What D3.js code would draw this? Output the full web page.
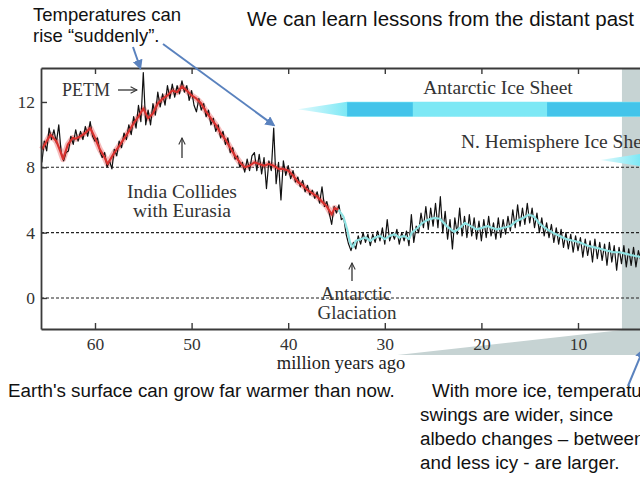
<!DOCTYPE html>
<html>
<head>
<meta charset="utf-8">
<script src="https://cdn.jsdelivr.net/npm/d3@7"></script>
<style>
body { margin: 0; background: #fff; }
svg { display: block; }
</style>
</head>
<body>
<script>
var ageTicks = [60, 50, 40, 30, 20, 10];
var tempTicks = [0, 4, 8, 12];
var gridTemps = [0, 4, 8];

// running mean, [million years ago, deg C] - red before the glaciation, cyan after
var redSmooth = [[65.5, 9.1],[65.0, 9.6],[64.6, 10.0],[64.0, 9.6],[63.6, 9.0],[63.3, 8.5],[62.8, 9.4],[62.3, 9.8],
  [62.0, 9.75],[61.5, 9.9],[61.0, 10.1],[60.5, 10.4],[60.0, 9.8],[59.5, 9.1],[59.0, 8.6],[58.7, 8.2],[58.0, 8.9],
  [57.5, 9.3],[57.0, 9.75],[56.5, 10.2],[56.0, 10.7],[55.5, 11.1],[55.0, 11.6],[54.5, 11.0],[54.0, 11.3],[53.5, 11.9],
  [53.0, 12.2],[52.5, 12.4],[52.0, 12.7],[51.5, 12.6],[51.0, 12.95],[50.5, 12.7],[50.0, 12.4],[49.5, 12.2],[49.0, 11.9],
  [48.5, 11.4],[48.0, 11.0],[47.5, 10.6],[47.0, 10.1],[46.5, 9.7],[46.0, 9.2],[45.5, 8.7],[45.0, 8.3],[44.5, 8.0],
  [44.0, 8.1],[43.5, 8.3],[43.0, 8.2],[42.5, 8.1],[42.0, 8.2],[41.5, 8.1],[41.0, 7.9],[40.5, 7.9],[40.0, 7.8],
  [39.5, 7.5],[39.0, 7.1],[38.5, 6.9],[38.0, 6.6],[37.5, 6.4],[37.0, 6.2],[36.5, 5.9],[36.0, 5.6],[35.5, 5.1],
  [35.2, 5.5],[34.8, 5.4]];

var cyanSmooth = [[34.8, 5.4],[34.3, 5.0],[33.9, 4.2],[33.6, 3.4],[33.3, 3.1],[33.0, 3.5],[32.5, 3.6],[32.0, 3.7],
  [31.5, 3.5],[31.0, 3.7],[30.5, 3.8],[30.0, 3.6],[29.5, 3.8],[29.0, 3.9],[28.5, 3.7],[28.0, 3.8],[27.5, 3.6],
  [27.2, 4.0],[26.6, 4.3],[26.1, 4.6],[25.5, 4.8],[24.9, 4.9],[24.3, 4.85],[23.6, 4.4],[22.8, 4.05],[22.2, 4.3],
  [21.7, 4.6],[21.1, 4.4],[20.5, 4.2],[19.9, 4.3],[19.4, 4.4],[18.9, 4.3],[18.4, 4.2],[17.7, 4.3],[17.0, 4.4],
  [16.4, 4.7],[15.7, 4.9],[15.1, 5.1],[14.6, 5.0],[13.9, 4.5],[13.2, 4.2],[12.6, 4.0],[11.9, 3.8],[11.2, 3.6],
  [10.5, 3.5],[9.8, 3.4],[9.0, 3.2],[8.3, 3.1],[7.6, 3.0],[7.0, 2.9],[6.3, 2.8],[5.7, 2.8],[5.0, 2.7],
  [4.3, 2.6],[3.5, 2.5]];

// raw record, one value every 0.25 Myr from 65.5 Myr ago down to 3.5
var rawStart = 65.5, rawStep = 0.25;
var rawTemps = [
  8.3, 9.6, 9.0, 10.4, 9.7, 10.3, 9.5, 10.6,
  8.9, 8.4, 8.9, 9.0, 9.9, 9.4, 10.3, 9.6,
  10.2, 9.7, 10.5, 9.9, 10.8, 9.9, 9.6, 9.8,
  9.0, 8.6, 8.9, 8.0, 8.4, 7.9, 9.1, 8.7,
  9.6, 9.2, 10.1, 9.7, 10.6, 10.0, 11.1, 10.4,
  11.8, 10.8, 13.8, 10.6, 11.5, 10.6, 11.9, 11.2,
  12.6, 11.7, 12.5, 11.8, 13.0, 12.2, 13.1, 12.3,
  13.0, 12.5, 13.3, 12.6, 13.0, 12.1, 12.7, 11.8,
  11.4, 12.2, 11.5, 11.9, 11.1, 11.5, 10.6, 11.0,
  10.2, 10.6, 9.8, 10.2, 9.4, 9.8, 8.9, 9.2,
  8.5, 8.7, 8.0, 8.3, 7.7, 8.5, 7.8, 8.7,
  8.9, 7.8, 8.8, 7.6, 8.6, 6.7, 8.4, 7.8,
  10.4, 7.0, 8.3, 6.0, 8.4, 7.5, 8.1, 7.3,
  7.8, 7.1, 7.4, 6.8, 7.2, 6.5, 6.9, 6.3,
  6.6, 6.1, 6.5, 5.8, 6.8, 5.6, 5.9, 5.2,
  4.5, 5.6, 5.2, 5.7, 4.8, 4.9, 3.9, 3.3,
  2.9, 3.4, 3.0, 3.8, 3.3, 4.0, 3.4, 3.9,
  3.2, 3.9, 3.4, 4.1, 3.5, 4.3, 3.3, 4.8,
  3.5, 4.0, 3.6, 4.2, 3.3, 4.0, 3.5, 4.1,
  3.2, 5.1, 3.4, 4.4, 4.0, 5.2, 4.3, 5.6,
  4.2, 5.5, 4.4, 5.8, 4.3, 6.2, 4.0, 5.3,
  3.6, 4.8, 3.0, 4.9, 3.9, 5.5, 3.8, 5.0,
  3.7, 5.1, 3.8, 4.9, 3.6, 4.7, 3.5, 4.8,
  3.7, 5.0, 3.8, 4.6, 3.6, 4.9, 3.7, 4.8,
  3.9, 5.0, 4.1, 5.4, 4.3, 5.7, 4.4, 5.5,
  4.5, 5.8, 4.6, 5.5, 4.3, 5.2, 4.0, 4.9,
  3.8, 4.6, 3.7, 4.5, 3.4, 4.3, 3.3, 4.2,
  3.1, 4.0, 3.0, 3.9, 2.8, 3.8, 2.9, 3.7,
  2.5, 3.6, 2.6, 3.5, 2.2, 3.6, 2.4, 3.4,
  2.3, 3.3, 2.0, 3.4, 2.2, 3.2, 1.7, 3.1,
  2.1, 3.2, 1.9, 3.0, 2.0, 3.1, 1.9, 2.9,
  2.3];

var iceSheets = [
  {name: "Antarctic Ice Sheet", tip: 39.0, full: 33.9, temp: 11.55, half: 7.5, dark: [[33.9, 27.1], [13.2, -5]]},
  {name: "N. Hemisphere Ice Sheet", tip: 7.7, full: 3.6, temp: 8.45, half: 6, dark: []}
];
var zoomFrom = 5.45, zoomTail = 28.7;

var width = 640, height = 480;
var plotTop = 68, plotBottom = 329, plotLeft = 41;

var x = d3.scaleLinear().domain([65.59, -5]).range([plotLeft, 722.9]);
var y = d3.scaleLinear().domain([-1.9, 14.08]).range([plotBottom, plotTop]);

var serif = "'Liberation Serif', 'Times New Roman', 'DejaVu Serif', serif";
var sans = "'Liberation Sans', Arial, 'DejaVu Sans', sans-serif";

var svg = d3.select("body").append("svg")
    .attr("width", width)
    .attr("height", height);

svg.append("rect").attr("width", width).attr("height", height).attr("fill", "#fff");

var defs = svg.append("defs");
defs.append("marker")
    .attr("id", "blueHead")
    .attr("viewBox", "0 0 10 10")
    .attr("refX", 8).attr("refY", 5)
    .attr("markerWidth", 5).attr("markerHeight", 5)
    .attr("orient", "auto")
  .append("path")
    .attr("d", "M0,0 L10,5 L0,10 Z")
    .attr("fill", "#5a82be");

defs.append("marker")
    .attr("id", "greyHead")
    .attr("viewBox", "0 0 10 10")
    .attr("refX", 9).attr("refY", 5)
    .attr("markerWidth", 8).attr("markerHeight", 8)
    .attr("markerUnits", "userSpaceOnUse")
    .attr("orient", "auto")
  .append("path")
    .attr("d", "M1,1 L9,5 L1,9")
    .attr("fill", "none")
    .attr("stroke", "#333")
    .attr("stroke-width", 1.3);

// grey zoom band and wedge below the axis
svg.append("path")
    .attr("d", "M" + x(zoomTail) + ",355 L" + x(zoomFrom) + ",330 L" + x(zoomFrom) + "," + plotTop +
               " L" + x(-5) + "," + plotTop + " L" + x(-5) + ",355 Z")
    .attr("fill", "#c6d3d3");

// ice sheet bars
iceSheets.forEach(function(s, i) {
    var grad = defs.append("linearGradient")
        .attr("id", "iceGrad" + i)
        .attr("gradientUnits", "userSpaceOnUse")
        .attr("x1", x(s.tip)).attr("x2", x(s.full))
        .attr("y1", 0).attr("y2", 0);
    grad.append("stop").attr("offset", 0).attr("stop-color", "#e2fafd");
    grad.append("stop").attr("offset", 1).attr("stop-color", "#7de8f5");

    var cy = y(s.temp);
    svg.append("path")
        .attr("d", "M" + x(s.tip) + "," + cy +
                   " L" + x(s.full) + "," + (cy - s.half) +
                   " L" + x(-5) + "," + (cy - s.half) +
                   " L" + x(-5) + "," + (cy + s.half) +
                   " L" + x(s.full) + "," + (cy + s.half) + " Z")
        .attr("fill", "url(#iceGrad" + i + ")");

    s.dark.forEach(function(d) {
        svg.append("rect")
            .attr("x", x(d[0]))
            .attr("y", cy - s.half + 0.5)
            .attr("width", x(d[1]) - x(d[0]))
            .attr("height", s.half * 2 - 1)
            .attr("fill", "#43c4ea");
    });
});

// dashed reference lines
svg.selectAll(".grid")
    .data(gridTemps)
  .enter().append("line")
    .attr("class", "grid")
    .attr("x1", plotLeft).attr("x2", x(-5))
    .attr("y1", function(d) { return y(d); })
    .attr("y2", function(d) { return y(d); })
    .attr("stroke", "#222")
    .attr("stroke-width", 1.1)
    .attr("stroke-dasharray", "3,2");

var line = d3.line()
    .x(function(d) { return x(d[0]); })
    .y(function(d) { return y(d[1]); });

var raw = rawTemps.map(function(t, i) { return [rawStart - i * rawStep, t]; });

svg.append("path")
    .datum(redSmooth)
    .attr("d", line)
    .attr("fill", "none")
    .attr("stroke", "#f2a0a0")
    .attr("stroke-width", 6)
    .attr("stroke-linejoin", "round")
    .attr("opacity", 0.7);

svg.append("path")
    .datum(raw)
    .attr("d", line)
    .attr("fill", "none")
    .attr("stroke", "#111")
    .attr("stroke-width", 1.2)
    .attr("stroke-linejoin", "round");

svg.append("path")
    .datum(redSmooth)
    .attr("d", line)
    .attr("fill", "none")
    .attr("stroke", "#d8312e")
    .attr("stroke-width", 2.2)
    .attr("stroke-linejoin", "round");

svg.append("path")
    .datum(cyanSmooth)
    .attr("d", line)
    .attr("fill", "none")
    .attr("stroke", "#8fe2e2")
    .attr("stroke-width", 2.2)
    .attr("stroke-linejoin", "round");

// axes, ticks point inwards
var axisStyle = function(g) {
    g.select(".domain").attr("stroke", "#3a3a3a").attr("stroke-width", 1.8);
    g.selectAll(".tick line").attr("stroke", "#3a3a3a").attr("stroke-width", 1.4);
    g.selectAll("text").attr("font-family", serif).attr("font-size", 17.5).attr("fill", "#333");
};

svg.append("g")
    .attr("transform", "translate(0," + plotBottom + ")")
    .call(d3.axisBottom(x).tickValues(ageTicks).tickSizeInner(-6).tickSizeOuter(0).tickPadding(8.5))
    .call(axisStyle);

svg.append("g")
    .attr("transform", "translate(0," + plotTop + ")")
    .call(d3.axisTop(x).tickValues(ageTicks).tickSizeInner(-6).tickSizeOuter(0).tickFormat(""))
    .call(axisStyle);

svg.append("g")
    .attr("transform", "translate(" + plotLeft + ",0)")
    .call(d3.axisLeft(y).tickValues(tempTicks).tickSizeInner(-6).tickSizeOuter(0).tickPadding(6))
    .call(axisStyle);

svg.append("text")
    .attr("x", 341).attr("y", 369)
    .attr("text-anchor", "middle")
    .attr("font-family", serif).attr("font-size", 18.5).attr("fill", "#222")
    .text("million years ago");

// labels inside the plot
var serifLabel = function(txt, px, py, size, anchor) {
    svg.append("text")
        .attr("x", px).attr("y", py)
        .attr("text-anchor", anchor || "middle")
        .attr("font-family", serif).attr("font-size", size).attr("fill", "#333")
        .text(txt);
};

var pointer = function(x1, y1, x2, y2) {
    svg.append("line")
        .attr("x1", x1).attr("y1", y1)
        .attr("x2", x2).attr("y2", y2)
        .attr("stroke", "#333")
        .attr("stroke-width", 1.3)
        .attr("marker-end", "url(#greyHead)");
};

serifLabel("PETM", 62, 96, 18, "start");
pointer(118, 90, 137, 90);
pointer(182, 158, 182, 138);
serifLabel("India Collides", 182, 198, 19.5);
serifLabel("with Eurasia", 182, 217, 19.5);
pointer(352, 281, 352, 263);
serifLabel("Antarctic", 356, 300, 19);
serifLabel("Glaciation", 357, 319, 19);
serifLabel(iceSheets[0].name, 498, 94, 19.5);
serifLabel(iceSheets[1].name, 461, 148, 19.5, "start");

// sans-serif notes around the chart
var note = function(txt, px, py, size) {
    svg.append("text")
        .attr("x", px).attr("y", py)
        .attr("font-family", sans).attr("font-size", size).attr("fill", "#111")
        .text(txt);
};

note("We can learn lessons from the distant past", 247, 26, 20.5);
note("Temperatures can", 33, 21, 18.5);
note("rise \u201csuddenly\u201d.", 33, 42, 18.5);
note("Earth's surface can grow far warmer than now.", 8, 397, 18.8);
note("With more ice, temperature", 432, 397, 18.8);
note("swings are wider, since", 420, 421, 18.8);
note("albedo changes \u2013 between", 420, 445, 18.8);
note("and less icy - are larger.", 420, 469, 18.8);

var arrows = [
    [[133, 47], [x(55.0) - 3, plotTop]],
    [[163, 44], [x(41.5), y(10.4) - 3]],
    [[628, 386], [643, 350]]
];

arrows.forEach(function(a) {
    svg.append("line")
        .attr("x1", a[0][0]).attr("y1", a[0][1])
        .attr("x2", a[1][0]).attr("y2", a[1][1])
        .attr("stroke", "#5a82be")
        .attr("stroke-width", 2)
        .attr("marker-end", "url(#blueHead)");
});
</script>
</body>
</html>
